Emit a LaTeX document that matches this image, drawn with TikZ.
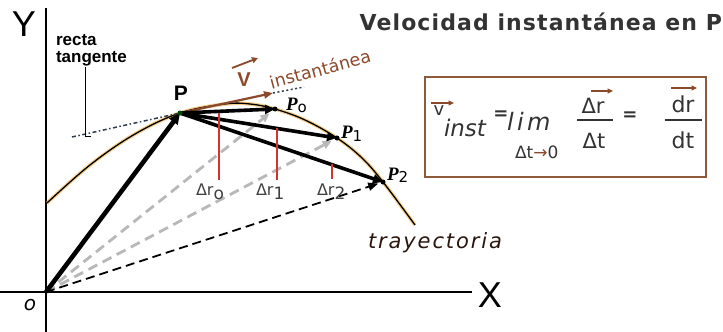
\documentclass[tikz,border=0pt]{standalone}
\usepackage{fontspec}
\setmainfont{DejaVu Sans}
\newfontfamily\arialf{Liberation Sans}
\newfontfamily\timesf{Liberation Serif}
\newfontfamily\trayf[LetterSpace=9]{DejaVu Sans}
\newfontfamily\titlef[LetterSpace=5]{DejaVu Sans}
\newfontfamily\limf[LetterSpace=14]{DejaVu Sans}
\usetikzlibrary{arrows.meta}
\definecolor{brn}{HTML}{8B4A2B}
\definecolor{boxbrn}{HTML}{8E5A3A}
\definecolor{redl}{HTML}{D93030}
\definecolor{txt}{HTML}{333333}
\definecolor{glow}{HTML}{F0B040}
\definecolor{tang}{HTML}{2E3D4F}
\newcommand{\myfs}[1]{\fontsize{#1}{#1}\selectfont}
\begin{document}
\begin{tikzpicture}[x=1pt,y=-1pt,
  lbl/.style={inner sep=0pt, outer sep=0pt, text=txt},
  axis/.style={line width=1.4pt, black},
  bigarrow/.style={line width=4.6pt, -{Triangle[length=11pt,width=10pt]}},
  chordarrow/.style={line width=3.6pt, -{Triangle[length=10pt,width=9pt]}},
  graydash/.style={line width=2.8pt, color=black!28, dash pattern=on 10pt off 6pt, -{Triangle[length=9pt,width=8pt]}},
  blackdash/.style={line width=1.8pt, dash pattern=on 9pt off 5pt, -{Triangle[length=10pt,width=8pt]}},
  redline/.style={line width=1.8pt, redl},
  accent/.style={line width=1.4pt, brn, -{Triangle[length=5.5pt,width=5pt]}},
  ptdot/.style={circle, fill=black, inner sep=0pt, minimum size=5pt}
]
\useasboundingbox (0,0) rectangle (723,332);
\fill[white] (0,0) rectangle (723,332);

% coordinates
\coordinate (O) at (46,292);
\coordinate (P) at (180,113);
\coordinate (P0) at (275,109);
\coordinate (P1) at (337,138);
\coordinate (P2) at (383,182);
\coordinate (Ytop) at (46,8);
\coordinate (Ybot) at (46,332);
\coordinate (Xl) at (0,292);
\coordinate (Xr) at (472,292);
\coordinate (T1) at (72,137);
\coordinate (T2) at (273,93);
\coordinate (T3) at (304,87);

% axes
\draw[axis] (Ytop) -- (Ybot);
\draw[axis] (Xl) -- (Xr);
\node[lbl, text=black, font=\arialf\myfs{36}] (Ylab) at (24,24) {Y};
\node[lbl, text=black, font=\arialf\myfs{36}] (Xlab) at (490,295) {X};
\node[lbl, text=black, font=\itshape\myfs{20}] (Olab) at (30,305) {o};

% trajectory
\draw[glow, line width=3.6pt, opacity=0.6] plot[smooth, tension=0.6] coordinates {(47,203) (90,165) (135,134) (180,113) (225,104) (250,104) (275,109) (305,120) (337,138) (362,158) (383,182) (415,225)};
\draw[black, line width=1.3pt] plot[smooth, tension=0.6] coordinates {(47,203) (90,165) (135,134) (180,113) (225,104) (250,104) (275,109) (305,120) (337,138) (362,158) (383,182) (415,225)};

% dashed position vectors
\draw[graydash, shorten >=7pt] (O) -- (P0);
\draw[graydash, shorten >=6pt] (O) -- (P1);
\draw[blackdash, shorten >=5pt] (O) -- (P2);

% tangent line
\draw[tang, line width=1.5pt, dash pattern=on 4pt off 2.5pt on 1.5pt off 2.5pt] (T1) -- (P);
\draw[tang, line width=1.5pt, dash pattern=on 2pt off 2.5pt] (T2) -- (T3);
\draw[brn, line width=2.2pt, -{Triangle[length=9pt,width=7pt]}] (P) -- (T2);

% leader of "recta tangente"
\coordinate (L1) at (85,67);
\coordinate (L2) at (85,136);
\coordinate (L3) at (91,136);
\draw[black, line width=1pt] (L1) -- (L2) -- (L3);
\node[lbl, text=black, font=\arialf\bfseries\myfs{17}, anchor=base west] (rt1) at (56,45) {recta};
\node[lbl, text=black, font=\arialf\bfseries\myfs{17}, anchor=base west] (rt2) at (56,62) {tangente};

% position vector and chords
\draw[bigarrow] (O) -- (P);
\draw[chordarrow] (P) -- (P0);
\draw[chordarrow] (P) -- (P1);
\draw[chordarrow] (P) -- (P2);

% points
\node[ptdot, fill=black!70!green] (Pd) at (P) {};
\node[ptdot] (P0d) at (P0) {};
\node[ptdot] (P1d) at (P1) {};
\node[ptdot] (P2d) at (P2) {};

% point labels
\node[lbl, text=black, font=\arialf\bfseries\myfs{21}] (Plab) at (181,93) {P};
\node[lbl, text=black, anchor=base west] (P0lab) at (286,110) {\timesf\bfseries\itshape\myfs{19}P\raisebox{-2pt}{\normalfont\myfs{15}o}};
\node[lbl, text=black, anchor=base west] (P1lab) at (341,138) {\timesf\bfseries\itshape\myfs{19}P\raisebox{-3pt}{\normalfont\myfs{15}1}};
\node[lbl, text=black, anchor=base west] (P2lab) at (387,180) {\timesf\bfseries\itshape\myfs{19}P\raisebox{-2pt}{\normalfont\myfs{15}2}};

% red segments
\coordinate (R0a) at (219,113); \coordinate (R0b) at (219,180);
\coordinate (R1a) at (277,128); \coordinate (R1b) at (277,180);
\coordinate (R2a) at (332,164); \coordinate (R2b) at (332,179);
\draw[redline] (R0a) -- (R0b);
\draw[redline] (R1a) -- (R1b);
\draw[redline] (R2a) -- (R2b);
\node[lbl, anchor=base west, text=black!75] (dr0) at (196,195) {\myfs{16}Δr\raisebox{-4pt}{\myfs{17}o}};
\node[lbl, anchor=base west, text=black!75] (dr1) at (256,195) {\myfs{16}Δr\raisebox{-4pt}{\myfs{17}1}};
\node[lbl, anchor=base west, text=black!75] (dr2) at (317,195) {\myfs{16}Δr\raisebox{-4pt}{\myfs{17}2}};

% instantaneous velocity label
\node[lbl, text=brn, font=\arialf\bfseries\myfs{20}] (Vlab) at (244,80) {V};
\coordinate (VA1) at (232,68); \coordinate (VA2) at (258,58);
\draw[brn, line width=1.8pt, -{Triangle[length=6pt,width=6pt]}] (VA1) -- (VA2);
\node[lbl, text=brn, font=\myfs{17.5}, rotate=15] (inst) at (320,69) {instantánea};

% trajectory label
\node[lbl, text=black!70!brn, font=\trayf\itshape\myfs{21}, anchor=base west] (tray) at (368,248) {trayectoria};

% title
\node[lbl, text=txt, font=\titlef\bfseries\myfs{22}, anchor=base east] (title) at (722,30) {Velocidad instantánea en P};

% formula box
\coordinate (B1) at (425,77); \coordinate (B2) at (706,177);
\draw[boxbrn, line width=2.8pt, fill=white] (B1) rectangle (B2);
\node[lbl, anchor=base] (fv) at (439,115) {\myfs{18}v};
\coordinate (av1) at (431,103); \coordinate (av2) at (454,103);
\draw[accent] (av1) -- (av2);
\node[lbl, anchor=base west, font=\itshape\myfs{23}] (finst) at (444,136) {inst};
\node[lbl, font=\bfseries\myfs{18}] (feq1) at (501,115) {=};
\node[lbl, anchor=base west, font=\limf\itshape\myfs{24}] (flim) at (507,130) {lim};
\node[lbl, anchor=base west, font=\myfs{17}] (flimsub) at (515,158) {Δt{\color{brn}→}0};
\node[lbl, anchor=base, font=\myfs{21}] (fnum1) at (593,113) {Δr};
\coordinate (ar1) at (591,91); \coordinate (ar2) at (613,91);
\draw[accent] (ar1) -- (ar2);
\coordinate (bar1a) at (577,120); \coordinate (bar1b) at (613,120);
\draw[txt, line width=1.2pt] (bar1a) -- (bar1b);
\node[lbl, anchor=base, font=\myfs{21}] (fden1) at (594,148) {Δt};
\node[lbl, font=\bfseries\myfs{18}] (feq2) at (630,116) {=};
\node[lbl, anchor=base, font=\myfs{22}] (fnum2) at (683,112) {dr};
\coordinate (ad1) at (671,88); \coordinate (ad2) at (697,88);
\draw[accent] (ad1) -- (ad2);
\coordinate (bar2a) at (665,120); \coordinate (bar2b) at (702,120);
\draw[txt, line width=1.2pt] (bar2a) -- (bar2b);
\node[lbl, anchor=base, font=\myfs{22}] (fden2) at (683,148) {dt};
\end{tikzpicture}
\end{document}
